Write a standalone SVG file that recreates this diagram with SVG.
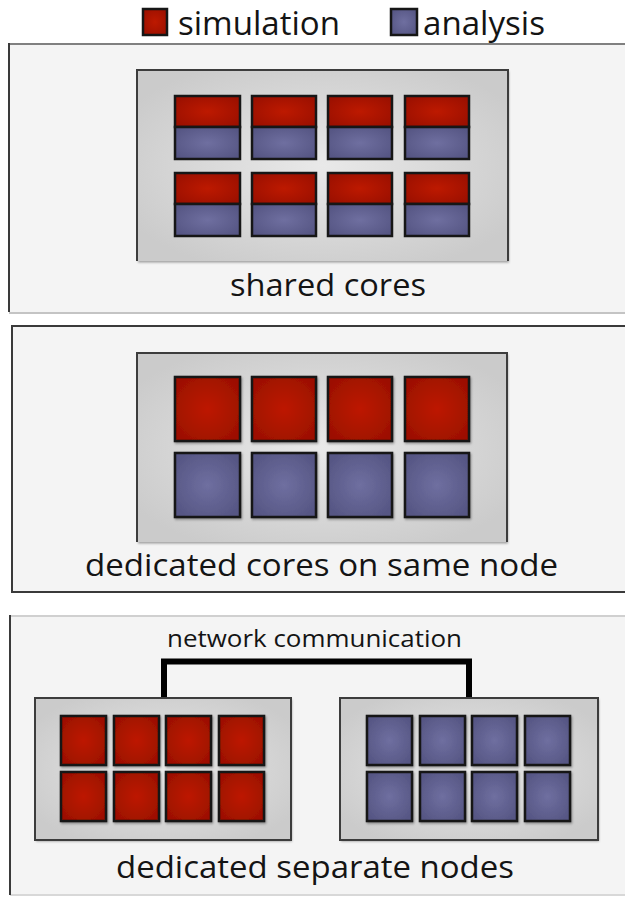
<svg xmlns="http://www.w3.org/2000/svg" width="625" height="898" viewBox="0 0 625 898">
<style>
  text { font-family: "Open Sans", "Liberation Sans", sans-serif; fill: #141414; font-weight: 500; }
  .panel { fill: #f4f4f4; }
  .edge-dark { stroke: #3a3a3a; stroke-width: 2; fill: none; }
  .edge-light { stroke: #c4c4c4; stroke-width: 2; fill: none; }
  .box { fill: url(#boxGrad); filter: url(#shadow); }
  .boxline { stroke: #3c3c3c; stroke-width: 2; fill: none; }
  .sim { fill: url(#redGrad); stroke: #161616; stroke-width: 2.5; filter: url(#shadow); }
  .ana { fill: url(#blueGrad); stroke: #161616; stroke-width: 2.5; filter: url(#shadow); }
  .simh { fill: url(#redGrad); stroke: #161616; stroke-width: 2.5; }
  .anah { fill: url(#blueGrad); stroke: #161616; stroke-width: 2.5; }
  .net { stroke: #000; stroke-width: 6; fill: none; stroke-linejoin: miter; }
</style>
<defs>
  <radialGradient id="redGrad" cx="0.5" cy="0.5" r="0.6">
    <stop offset="0" stop-color="#bd1900"/>
    <stop offset="1" stop-color="#9c1000"/>
  </radialGradient>
  <radialGradient id="blueGrad" cx="0.5" cy="0.5" r="0.6">
    <stop offset="0" stop-color="#6f6fa0"/>
    <stop offset="1" stop-color="#565684"/>
  </radialGradient>
  <radialGradient id="boxGrad" cx="0.5" cy="0.5" r="0.6">
    <stop offset="0" stop-color="#e9e9e9"/>
    <stop offset="1" stop-color="#cbcbcb"/>
  </radialGradient>
  <filter id="shadow" x="-10%" y="-10%" width="125%" height="125%">
    <feDropShadow dx="1" dy="1.5" stdDeviation="1.2" flood-color="#000" flood-opacity="0.35"/>
  </filter>
</defs>

<rect width="625" height="898" fill="#ffffff"/>

<!-- Legend -->
<g id="legend-simulation">
  <rect x="143" y="9" width="24" height="26" class="simh"/>
  <text x="178" y="35" font-size="33" textLength="162" lengthAdjust="spacingAndGlyphs">simulation</text>
</g>
<g id="legend-analysis">
  <rect x="391" y="9" width="26" height="26" class="anah"/>
  <text x="423" y="35" font-size="33" textLength="122" lengthAdjust="spacingAndGlyphs">analysis</text>
</g>

<!-- Panel 1: shared cores -->
<g id="panel-shared">
  <rect x="9" y="44" width="616" height="269" class="panel"/>
  <line x1="9" y1="313" x2="625" y2="313" class="edge-light"/>
  <line x1="9" y1="44" x2="625" y2="44" stroke="#808080" stroke-width="2"/>
  <line x1="9" y1="43" x2="9" y2="312" class="edge-dark"/>
  <g id="shared-node">
    <rect x="137" y="70" width="371" height="191" class="box"/>
    <polyline points="137,261 137,70 508,70 508,261" class="boxline"/>
  </g>
  <g id="shared-cores">
    <rect x="175" y="96" width="65" height="31" class="simh"/><rect x="175" y="127" width="65" height="32" class="anah"/>
    <rect x="252" y="96" width="64" height="31" class="simh"/><rect x="252" y="127" width="64" height="32" class="anah"/>
    <rect x="328" y="96" width="64" height="31" class="simh"/><rect x="328" y="127" width="64" height="32" class="anah"/>
    <rect x="405" y="96" width="64" height="31" class="simh"/><rect x="405" y="127" width="64" height="32" class="anah"/>
    <rect x="175" y="173" width="65" height="31" class="simh"/><rect x="175" y="204" width="65" height="32" class="anah"/>
    <rect x="252" y="173" width="64" height="31" class="simh"/><rect x="252" y="204" width="64" height="32" class="anah"/>
    <rect x="328" y="173" width="64" height="31" class="simh"/><rect x="328" y="204" width="64" height="32" class="anah"/>
    <rect x="405" y="173" width="64" height="31" class="simh"/><rect x="405" y="204" width="64" height="32" class="anah"/>
  </g>
  <text x="230" y="296" font-size="31" textLength="196" lengthAdjust="spacingAndGlyphs">shared cores</text>
</g>

<!-- Panel 2: dedicated cores on same node -->
<g id="panel-dedicated-cores">
  <rect x="12" y="326" width="613" height="266" class="panel"/>
  <polyline points="625,326 12,326 12,592 625,592" class="edge-dark"/>
  <g id="same-node">
    <rect x="137" y="353" width="370" height="189" class="box"/>
    <polyline points="137,542 137,353 507,353 507,542" class="boxline"/>
  </g>
  <g id="dedicated-sim-cores">
    <rect x="175" y="377" width="65" height="64" class="sim"/>
    <rect x="252" y="377" width="64" height="64" class="sim"/>
    <rect x="328" y="377" width="64" height="64" class="sim"/>
    <rect x="405" y="377" width="64" height="64" class="sim"/>
  </g>
  <g id="dedicated-ana-cores">
    <rect x="175" y="453" width="65" height="64" class="ana"/>
    <rect x="252" y="453" width="64" height="64" class="ana"/>
    <rect x="328" y="453" width="64" height="64" class="ana"/>
    <rect x="405" y="453" width="64" height="64" class="ana"/>
  </g>
  <text x="85" y="576" font-size="31" textLength="473" lengthAdjust="spacingAndGlyphs">dedicated cores on same node</text>
</g>

<!-- Panel 3: dedicated separate nodes -->
<g id="panel-separate-nodes">
  <rect x="10" y="616" width="615" height="279" class="panel"/>
  <line x1="10" y1="616" x2="625" y2="616" stroke="#d0d0d0" stroke-width="2"/>
  <line x1="10" y1="895" x2="625" y2="895" stroke="#d8d8d8" stroke-width="2"/>
  <line x1="10" y1="615" x2="10" y2="895" class="edge-dark"/>
  <text x="167" y="647" font-size="23" textLength="295" lengthAdjust="spacingAndGlyphs">network communication</text>
  <text x="116" y="878" font-size="31" textLength="398" lengthAdjust="spacingAndGlyphs">dedicated separate nodes</text>
</g>

<g id="connectors">
  <polyline points="164,699 164,661.5 469,661.5 469,699" class="net"/>
</g>

<g id="simulation-node">
  <rect x="35" y="698" width="256" height="142" class="box"/>
  <rect x="35" y="698" width="256" height="142" class="boxline"/>
  <rect x="61" y="716" width="45" height="49" class="sim"/>
  <rect x="114" y="716" width="45" height="49" class="sim"/>
  <rect x="166" y="716" width="45" height="49" class="sim"/>
  <rect x="219" y="716" width="45" height="49" class="sim"/>
  <rect x="61" y="772" width="45" height="49" class="sim"/>
  <rect x="114" y="772" width="45" height="49" class="sim"/>
  <rect x="166" y="772" width="45" height="49" class="sim"/>
  <rect x="219" y="772" width="45" height="49" class="sim"/>
</g>

<g id="analysis-node">
  <rect x="340" y="698" width="258" height="142" class="box"/>
  <rect x="340" y="698" width="258" height="142" class="boxline"/>
  <rect x="367" y="716" width="45" height="49" class="ana"/>
  <rect x="420" y="716" width="45" height="49" class="ana"/>
  <rect x="472" y="716" width="45" height="49" class="ana"/>
  <rect x="525" y="716" width="45" height="49" class="ana"/>
  <rect x="367" y="772" width="45" height="49" class="ana"/>
  <rect x="420" y="772" width="45" height="49" class="ana"/>
  <rect x="472" y="772" width="45" height="49" class="ana"/>
  <rect x="525" y="772" width="45" height="49" class="ana"/>
</g>
</svg>
